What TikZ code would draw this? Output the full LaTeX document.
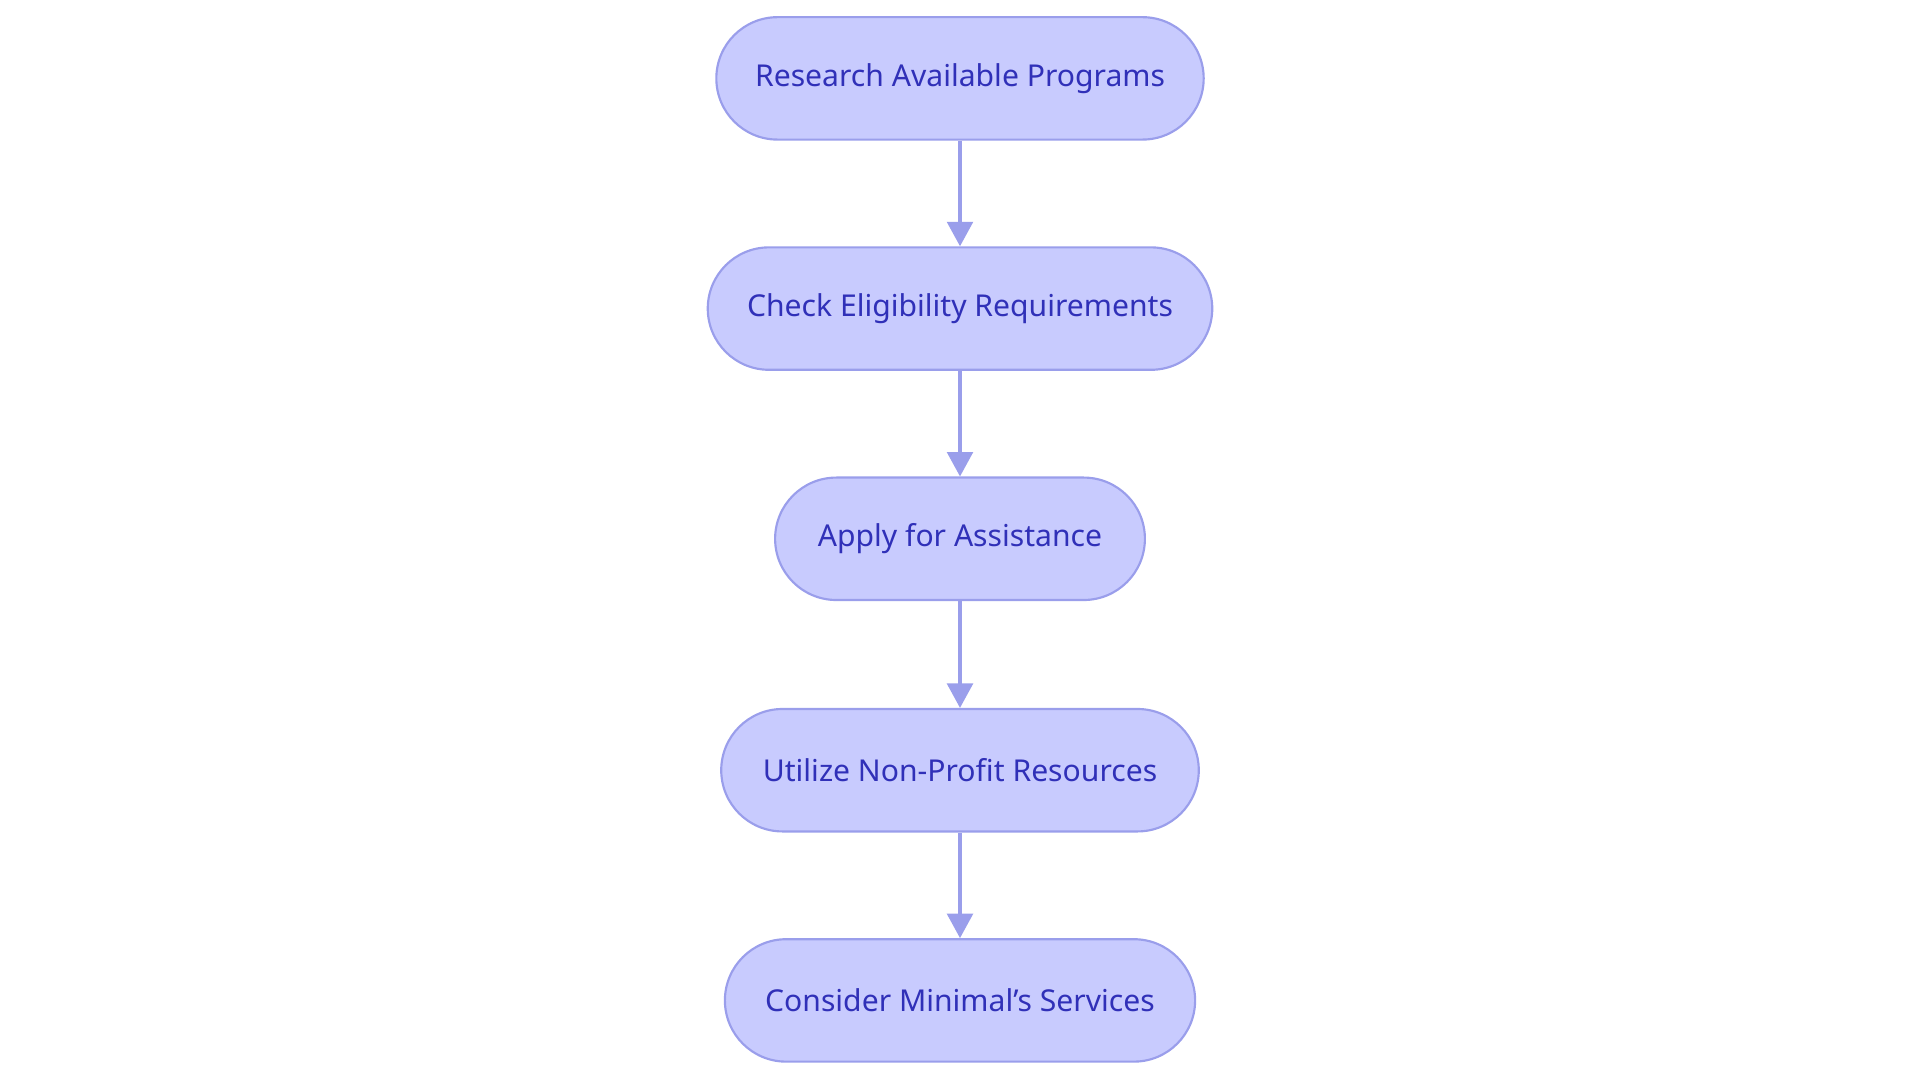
\documentclass[tikz,border=0pt]{standalone}
\usepackage{fontspec}
\setmainfont{Noto Sans}
\usetikzlibrary{arrows.meta}
\definecolor{nfill}{HTML}{C8CBFE}
\definecolor{nline}{HTML}{9A9EEB}
\definecolor{ntext}{HTML}{3030B8}
\begin{document}
\begin{tikzpicture}[x=0.02cm,y=-0.02cm,
  box/.style={draw=nline,fill=nfill,line width=1pt,rounded corners=1cm,minimum height=2cm,text=ntext,font=\fontsize{14}{16}\selectfont,inner sep=0pt},
  arr/.style={draw=nline,line width=1.6pt,-{Triangle[length=0.4cm,width=0.42cm]}}]
\useasboundingbox (0,0) rectangle (1568,884.5);
\node[box,minimum width=398*0.02cm] (a) at (784,64) {Research Available Programs};
\node[box,minimum width=412*0.02cm] (b) at (784,252) {Check Eligibility Requirements};
\node[box,minimum width=302*0.02cm] (c) at (784,440) {Apply for Assistance};
\node[box,minimum width=390*0.02cm] (d) at (784,629) {Utilize Non-Profit Resources};
\node[box,minimum width=384*0.02cm] (e) at (784,817) {Consider Minimal’s Services};
\draw[arr] (a) -- (b);
\draw[arr] (b) -- (c);
\draw[arr] (c) -- (d);
\draw[arr] (d) -- (e);
\end{tikzpicture}
\end{document}
